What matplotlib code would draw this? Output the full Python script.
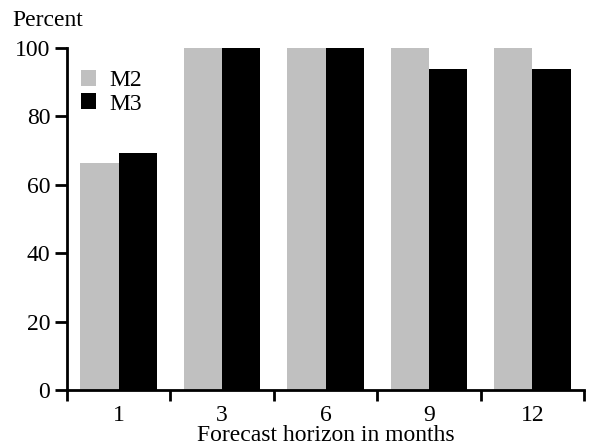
import matplotlib
matplotlib.use("Agg")
import matplotlib.pyplot as plt
import numpy as np

horizons = ["1", "3", "6", "9", "12"]
m2_values = [66.5, 100, 100, 100, 100]
m3_values = [69.2, 100, 100, 93.8, 93.8]

plt.rcParams["font.family"] = ["Liberation Serif", "DejaVu Serif"]
FS = 17

fig = plt.figure(figsize=(5.9, 4.46), dpi=100)
ax = fig.add_axes([67 / 590, 1 - 390 / 446, 517 / 590, 342 / 446])

x = np.arange(len(horizons))
w = 0.37
ax.bar(x - w / 2, m2_values, width=w, color="#c0c0c0", label="M2")
ax.bar(x + w / 2, m3_values, width=w, color="#000000", label="M3")

ax.set_xlim(-0.5, len(horizons) - 0.5)
ax.set_ylim(0, 100)
ax.set_yticks(range(0, 101, 20))
ax.set_xticks(x)
ax.set_xticklabels(horizons)
ax.set_xticks(np.arange(-0.5, len(horizons), 1.0), minor=True)
ax.tick_params(axis="x", which="major", length=0, labelsize=FS, pad=11)
ax.tick_params(axis="x", which="minor", length=8, width=2, direction="out")
ax.tick_params(axis="y", length=9, width=2, direction="out", labelsize=FS, pad=3)

for side in ["top", "right"]:
    ax.spines[side].set_visible(False)
for side in ["left", "bottom"]:
    ax.spines[side].set_linewidth(2)

ax.set_xlabel("Forecast horizon in months", fontsize=FS, labelpad=-1)
fig.text(12 / 590, 1 - 20 / 446, "Percent", fontsize=FS, ha="left", va="center")

ax.legend(loc="upper left", frameon=False, fontsize=FS, handlelength=0.65,
          handleheight=0.65, handletextpad=0.55, labelspacing=0.08,
          bbox_to_anchor=(-0.01, 0.99), borderaxespad=0.4)

fig.savefig("out.png", dpi=100)
